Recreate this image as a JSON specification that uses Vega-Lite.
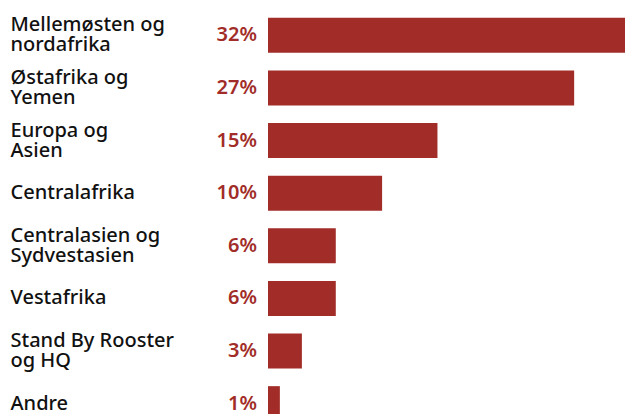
{
  "$schema": "https://vega.github.io/schema/vega-lite/v6.json",
  "width": 357,
  "height": 421,
  "autosize": "none",
  "padding": {"left": 268, "top": 9, "right": 0, "bottom": 0},
  "background": "white",
  "config": {"view": {"stroke": null}},
  "data": {
    "values": [
      {"region": "Mellemøsten og\nnordafrika", "value": 31.6, "label": "32%"},
      {"region": "Østafrika og\nYemen", "value": 27.1, "label": "27%"},
      {"region": "Europa og\nAsien", "value": 15.0, "label": "15%"},
      {"region": "Centralafrika", "value": 10.1, "label": "10%"},
      {"region": "Centralasien og\nSydvestasien", "value": 6.0, "label": "6%"},
      {"region": "Vestafrika", "value": 6.0, "label": "6%"},
      {"region": "Stand By Rooster\nog HQ", "value": 3.0, "label": "3%"},
      {"region": "Andre", "value": 1.05, "label": "1%"}
    ]
  },
  "encoding": {
    "y": {
      "field": "region",
      "type": "nominal",
      "sort": null,
      "scale": {"paddingInner": 0.334, "paddingOuter": 0.167},
      "axis": {
        "title": null,
        "ticks": false,
        "domain": false,
        "labelAlign": "left",
        "labelPadding": 258,
        "labelFont": "Noto Sans",
        "labelFontSize": 20,
        "labelFontWeight": 500,
        "labelColor": "#111111",
        "labelLineHeight": 20,
        "labelLimit": 300,
        "labelOffset": {"condition": {"test": "indexof(datum.value, '\\n') >= 0", "value": -10}, "value": 0},
        "labelExpr": "split(datum.label, '\\n')"
      }
    }
  },
  "layer": [
    {
      "mark": {"type": "bar", "color": "#a12c28"},
      "encoding": {
        "x": {
          "field": "value",
          "type": "quantitative",
          "scale": {"domain": [0, 31.6], "nice": false},
          "axis": null
        }
      }
    },
    {
      "mark": {
        "type": "text",
        "align": "right",
        "baseline": "middle",
        "dx": -11,
        "font": "Noto Sans",
        "fontSize": 20,
        "fontWeight": 600,
        "color": "#a12c28"
      },
      "encoding": {
        "x": {"datum": 0, "type": "quantitative"},
        "text": {"field": "label"}
      }
    }
  ]
}
